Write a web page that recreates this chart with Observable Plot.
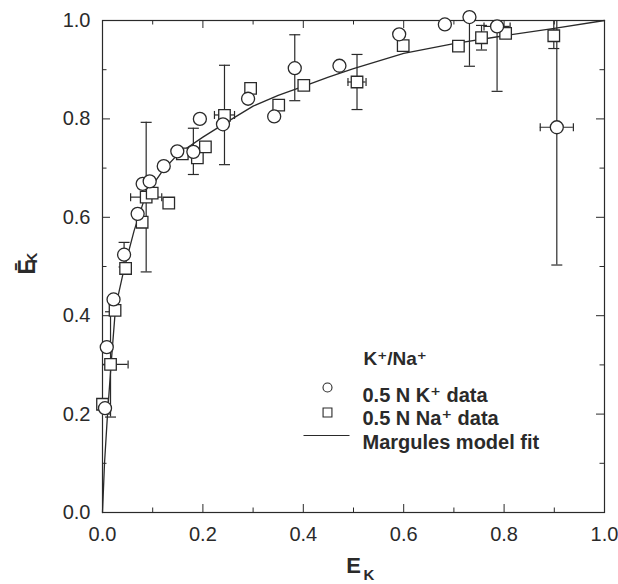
<!DOCTYPE html>
<html><head><meta charset="utf-8">
<script src="https://cdn.jsdelivr.net/npm/d3@7"></script>
<script src="https://cdn.jsdelivr.net/npm/@observablehq/plot@0.6"></script>
<style>
html,body{margin:0;padding:0;background:#fff;}
#chart{width:618px;height:584px;}
</style></head><body><div id="chart"></div>
<script>
// 0.5 N K+ data (circles)
const kX = [0.005,0.0085,0.022,0.043,0.070,0.080,0.094,0.122,0.149,0.181,0.194,0.240,0.290,0.342,0.383,0.472,0.591,0.682,0.731,0.786,0.905];
const kY = [0.212,0.336,0.433,0.524,0.607,0.668,0.673,0.704,0.734,0.733,0.800,0.789,0.841,0.805,0.903,0.908,0.972,0.992,1.007,0.988,0.783];
// 0.5 N Na+ data (squares)
const naX = [0.000,0.016,0.025,0.046,0.079,0.087,0.099,0.132,0.159,0.189,0.205,0.243,0.295,0.351,0.401,0.507,0.599,0.709,0.755,0.803,0.899];
const naY = [0.220,0.301,0.411,0.496,0.590,0.641,0.649,0.629,0.729,0.721,0.743,0.807,0.862,0.828,0.868,0.875,0.949,0.948,0.965,0.974,0.969];
// error bars, K+ points
const kBarX  = [0.043,0.181,0.383,0.731,0.786,0.905];
const kBarY  = [0.524,0.734,0.904,1.007,0.988,0.783];
const kBarDy = [0.025,0.047,0.067,0.100,0.132,0.280];
const kBarDx = [0,0,0,0.026,0.026,0.033];
// error bars, Na+ points
const naBarX  = [0.016,0.087,0.243,0.507,0.755,0.899];
const naBarY  = [0.301,0.641,0.808,0.875,0.965,0.972];
const naBarDy = [0.107,0.152,0.101,0.056,0.025,0.029];
const naBarDx = [0.035,0.031,0.020,0.018,0,0];
// Margules model fit
const fitX = [0,0.004,0.010,0.017,0.026,0.043,0.063,0.086,0.120,0.150,0.200,0.250,0.300,0.350,0.400,0.450,0.500,0.600,0.700,0.800,0.900,1.000];
const fitY = [0,0.100,0.200,0.300,0.417,0.495,0.573,0.645,0.695,0.728,0.763,0.795,0.826,0.848,0.866,0.885,0.902,0.933,0.953,0.969,0.984,1.000];
// ticks
const majorTicks = [0,0.2,0.4,0.6,0.8,1.0];
const minorTicks = [0.1,0.3,0.5,0.7,0.9];
const legendTitle = "K\u207A/Na\u207A";
const legendLabels = ["0.5 N K\u207A data","0.5 N Na\u207A data","Margules model fit"];

const W = 618, H = 584, mL = 102, mR = 14, mT = 20, mB = 72;
const pw = W - mL - mR, ph = H - mT - mB;
const ink = "#2a2a2a";
const font = "'Liberation Sans', Arial, Helvetica, 'DejaVu Sans', sans-serif";

const kPts = kX.map((x,i)=>({x, y:kY[i]}));
const naPts = naX.map((x,i)=>({x, y:naY[i]}));
const bars = kBarX.map((x,i)=>({x, y:kBarY[i], dy:kBarDy[i], dx:kBarDx[i]}))
  .concat(naBarX.map((x,i)=>({x, y:naBarY[i], dy:naBarDy[i], dx:naBarDx[i]})));
const hbars = bars.filter(d=>d.dx>0);
const fit = fitX.map((x,i)=>({x, y:fitY[i]}));

const capH = {draw(c){c.moveTo(-5.5,0);c.lineTo(5.5,0);}};
const capV = {draw(c){c.moveTo(0,-4);c.lineTo(0,4);}};
const legLine = {draw(c){c.moveTo(-23,0);c.lineTo(23,0);}};

const one = [0];
const chart = Plot.plot({
  width: W, height: H,
  marginLeft: mL, marginRight: mR, marginTop: mT, marginBottom: mB,
  x: {domain:[0,1]}, y: {domain:[0,1]},
  style: {fontFamily: font, background: "#fff", color: ink},
  marks: [
    // inward ticks
    Plot.tickX(majorTicks, {x: d=>d, insetTop: ph-8, stroke: ink}),
    Plot.tickX(minorTicks, {x: d=>d, insetTop: ph-4.5, stroke: ink}),
    Plot.tickX(majorTicks, {x: d=>d, insetBottom: ph-8, stroke: ink}),
    Plot.tickX(minorTicks, {x: d=>d, insetBottom: ph-4.5, stroke: ink}),
    Plot.tickY(majorTicks, {y: d=>d, insetRight: pw-8, stroke: ink}),
    Plot.tickY(minorTicks, {y: d=>d, insetRight: pw-4.5, stroke: ink}),
    Plot.tickY(majorTicks, {y: d=>d, insetLeft: pw-8, stroke: ink}),
    Plot.tickY(minorTicks, {y: d=>d, insetLeft: pw-4.5, stroke: ink}),
    Plot.frame({stroke: ink, strokeWidth: 1.2}),
    Plot.axisX(majorTicks, {tickSize: 0, tickPadding: 14, fontSize: 20, tickFormat: d3.format(".1f"), label: null, fill: ink}),
    Plot.axisY(majorTicks, {tickSize: 0, tickPadding: 12, fontSize: 20, tickFormat: d3.format(".1f"), label: null, fill: ink}),
    // fit line
    Plot.line(fit, {x:"x", y:"y", stroke: ink, strokeWidth: 1.3}),
    // error bars
    Plot.ruleX(bars, {x:"x", y1: d=>d.y-d.dy, y2: d=>d.y+d.dy, stroke: ink, strokeWidth: 1.2, clip: true}),
    Plot.dot(bars, {x:"x", y: d=>d.y+d.dy, symbol: capH, r: 3, stroke: ink, fill: "none", strokeWidth: 1.2, clip: true}),
    Plot.dot(bars, {x:"x", y: d=>d.y-d.dy, symbol: capH, r: 3, stroke: ink, fill: "none", strokeWidth: 1.2, clip: true}),
    Plot.ruleY(hbars, {y:"y", x1: d=>d.x-d.dx, x2: d=>d.x+d.dx, stroke: ink, strokeWidth: 1.2, clip: true}),
    Plot.dot(hbars, {x: d=>d.x-d.dx, y:"y", symbol: capV, r: 3, stroke: ink, fill: "none", strokeWidth: 1.2, clip: true}),
    Plot.dot(hbars, {x: d=>d.x+d.dx, y:"y", symbol: capV, r: 3, stroke: ink, fill: "none", strokeWidth: 1.2, clip: true}),
    // markers
    Plot.dot(naPts, {x:"x", y:"y", symbol: "square", r: 6.5, stroke: ink, fill: "#fff", strokeWidth: 1.3}),
    Plot.dot(kPts, {x:"x", y:"y", symbol: "circle", r: 6.5, stroke: ink, fill: "#fff", strokeWidth: 1.3}),
    // axis titles
    Plot.text(one, {frameAnchor: "bottom", text: ()=>"E", dy: 60, fontSize: 22, fontWeight: "bold", fill: ink}),
    Plot.text(one, {frameAnchor: "bottom", text: ()=>"K", dx: 10, dy: 67, textAnchor: "start", fontSize: 15, fontWeight: "bold", fill: ink}),
    Plot.text(one, {frameAnchor: "left", text: ()=>"\u0112", dx: -75, dy: 8, rotate: -90, fontSize: 23, fontWeight: "bold", fill: ink}),
    Plot.text(one, {frameAnchor: "left", text: ()=>"K", dx: -70, dy: -3, rotate: -90, textAnchor: "start", fontSize: 15, fontWeight: "bold", fill: ink}),
    // legend
    Plot.text(one, {frameAnchor: "top-left", text: ()=>legendTitle, dx: 261, dy: 331, textAnchor: "start", fontSize: 19, fontWeight: "bold", fill: ink}),
    Plot.dot(one, {frameAnchor: "top-left", dx: 225, dy: 367, symbol: "circle", r: 4.5, stroke: ink, fill: "none", strokeWidth: 1.1}),
    Plot.text(one, {frameAnchor: "top-left", text: ()=>legendLabels[0], dx: 260, dy: 367, textAnchor: "start", fontSize: 20, fontWeight: "bold", fill: ink}),
    Plot.dot(one, {frameAnchor: "top-left", dx: 225, dy: 392, symbol: "square", r: 5, stroke: ink, fill: "none", strokeWidth: 1.1}),
    Plot.text(one, {frameAnchor: "top-left", text: ()=>legendLabels[1], dx: 260, dy: 390, textAnchor: "start", fontSize: 20, fontWeight: "bold", fill: ink}),
    Plot.dot(one, {frameAnchor: "top-left", dx: 224, dy: 415, symbol: legLine, r: 3, stroke: ink, fill: "none", strokeWidth: 1.2}),
    Plot.text(one, {frameAnchor: "top-left", text: ()=>legendLabels[2], dx: 260, dy: 414, textAnchor: "start", fontSize: 20, fontWeight: "bold", fill: ink})
  ]
});
document.getElementById("chart").appendChild(chart);
</script>
</body></html>
